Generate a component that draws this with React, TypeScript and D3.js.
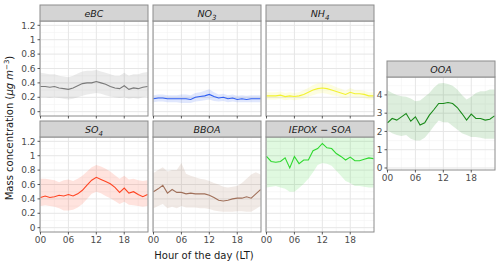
import React from 'react';
import * as d3 from 'd3';

// hourly diurnal means and +/- 1 sd band
const hours = [0, 1, 2, 3, 4, 5, 6, 7, 8, 9, 10, 11, 12, 13, 14, 15, 16, 17, 18, 19, 20, 21, 22, 23];

const eBC = [0.35, 0.35, 0.34, 0.35, 0.33, 0.32, 0.31, 0.33, 0.36, 0.39, 0.40, 0.40, 0.42, 0.40, 0.38, 0.35, 0.33, 0.32, 0.36, 0.31, 0.33, 0.32, 0.34, 0.35];
const eBCLo = [0.20, 0.20, 0.19, 0.20, 0.19, 0.18, 0.17, 0.18, 0.20, 0.22, 0.24, 0.25, 0.26, 0.25, 0.23, 0.21, 0.20, 0.19, 0.20, 0.18, 0.19, 0.18, 0.20, 0.21];
const eBCHi = [0.54, 0.53, 0.52, 0.52, 0.50, 0.49, 0.48, 0.50, 0.53, 0.56, 0.57, 0.57, 0.58, 0.56, 0.54, 0.52, 0.50, 0.50, 0.54, 0.50, 0.52, 0.52, 0.54, 0.55];

const NO3 = [0.18, 0.19, 0.19, 0.18, 0.18, 0.18, 0.18, 0.18, 0.17, 0.20, 0.21, 0.22, 0.24, 0.21, 0.19, 0.20, 0.18, 0.19, 0.17, 0.18, 0.17, 0.18, 0.18, 0.18];
const NO3Lo = [0.13, 0.14, 0.14, 0.13, 0.13, 0.13, 0.12, 0.12, 0.12, 0.14, 0.15, 0.16, 0.17, 0.15, 0.14, 0.15, 0.13, 0.14, 0.13, 0.13, 0.13, 0.13, 0.13, 0.13];
const NO3Hi = [0.23, 0.24, 0.24, 0.23, 0.23, 0.23, 0.24, 0.24, 0.23, 0.26, 0.27, 0.29, 0.31, 0.27, 0.24, 0.25, 0.23, 0.24, 0.22, 0.23, 0.22, 0.23, 0.23, 0.23];

const NH4 = [0.22, 0.22, 0.22, 0.23, 0.21, 0.22, 0.21, 0.22, 0.24, 0.27, 0.30, 0.32, 0.33, 0.32, 0.30, 0.28, 0.26, 0.24, 0.27, 0.25, 0.25, 0.24, 0.22, 0.22];
const NH4Lo = [0.17, 0.17, 0.17, 0.18, 0.16, 0.17, 0.16, 0.17, 0.18, 0.21, 0.23, 0.25, 0.26, 0.25, 0.23, 0.22, 0.20, 0.19, 0.21, 0.20, 0.20, 0.19, 0.17, 0.17];
const NH4Hi = [0.27, 0.27, 0.27, 0.28, 0.26, 0.27, 0.26, 0.27, 0.30, 0.33, 0.37, 0.39, 0.40, 0.39, 0.37, 0.34, 0.32, 0.29, 0.33, 0.30, 0.30, 0.29, 0.27, 0.27];

const SO4 = [0.42, 0.44, 0.42, 0.43, 0.45, 0.44, 0.46, 0.44, 0.47, 0.52, 0.59, 0.66, 0.70, 0.67, 0.64, 0.61, 0.56, 0.49, 0.55, 0.48, 0.50, 0.46, 0.43, 0.46];
const SO4Lo = [0.30, 0.31, 0.30, 0.29, 0.27, 0.24, 0.24, 0.25, 0.28, 0.33, 0.40, 0.47, 0.50, 0.48, 0.44, 0.41, 0.37, 0.33, 0.36, 0.32, 0.31, 0.30, 0.29, 0.30];
const SO4Hi = [0.68, 0.68, 0.67, 0.66, 0.63, 0.66, 0.67, 0.65, 0.68, 0.72, 0.78, 0.84, 0.87, 0.85, 0.82, 0.78, 0.73, 0.68, 0.72, 0.67, 0.68, 0.66, 0.65, 0.66];

const BBOA = [0.50, 0.54, 0.59, 0.48, 0.53, 0.49, 0.49, 0.47, 0.48, 0.47, 0.47, 0.47, 0.45, 0.42, 0.38, 0.37, 0.38, 0.40, 0.41, 0.41, 0.43, 0.41, 0.47, 0.53];
const BBOALo = [0.27, 0.30, 0.33, 0.27, 0.29, 0.27, 0.30, 0.28, 0.28, 0.28, 0.27, 0.27, 0.26, 0.24, 0.23, 0.22, 0.22, 0.22, 0.23, 0.23, 0.22, 0.22, 0.26, 0.30];
const BBOAHi = [0.76, 0.80, 0.84, 0.78, 0.80, 0.80, 0.90, 0.75, 0.72, 0.70, 0.68, 0.67, 0.65, 0.62, 0.60, 0.57, 0.56, 0.57, 0.58, 0.62, 0.68, 0.74, 0.77, 0.74];

const IEPOX = [0.99, 0.92, 0.91, 0.92, 0.97, 0.83, 0.99, 0.89, 0.94, 0.94, 1.07, 1.10, 1.17, 1.11, 1.10, 1.03, 0.99, 0.94, 0.98, 0.93, 0.93, 0.95, 0.97, 0.96];
const IEPOXLo = [0.56, 0.57, 0.58, 0.56, 0.54, 0.50, 0.50, 0.55, 0.61, 0.68, 0.77, 0.87, 0.90, 0.89, 0.86, 0.79, 0.72, 0.65, 0.62, 0.58, 0.58, 0.57, 0.56, 0.56];
const IEPOXHi = [1.42, 1.30, 1.30, 1.32, 1.40, 1.30, 1.48, 1.30, 1.30, 1.30, 1.37, 1.33, 1.44, 1.33, 1.34, 1.30, 1.30, 1.30, 1.34, 1.30, 1.30, 1.33, 1.38, 1.36];

const OOA = [2.47, 2.71, 2.62, 2.80, 2.98, 2.56, 2.80, 2.35, 2.47, 2.89, 3.20, 3.53, 3.53, 3.58, 3.53, 3.31, 2.98, 2.62, 2.95, 2.71, 2.71, 2.62, 2.67, 2.85];
const OOALo = [2.07, 1.90, 1.80, 1.75, 1.80, 1.60, 1.50, 1.50, 1.65, 1.95, 2.30, 2.60, 2.50, 2.50, 2.30, 2.10, 1.90, 1.80, 1.70, 1.70, 1.65, 1.60, 1.60, 1.60];
const OOAHi = [4.25, 4.10, 4.00, 3.93, 3.90, 3.80, 3.65, 3.70, 3.90, 4.10, 4.40, 4.62, 4.65, 4.60, 4.50, 4.30, 4.00, 3.75, 3.90, 4.10, 4.20, 4.20, 4.30, 4.30];

const xTicks = [0, 6, 12, 18];
const xTickLabels = ['00', '06', '12', '18'];
const xMinor = [3, 9, 15, 21];
const yTicks = [0, 0.2, 0.4, 0.6, 0.8, 1, 1.2];
const yMinor = [0.1, 0.3, 0.5, 0.7, 0.9, 1.1];
const yTicksOOA = [0, 1, 2, 3, 4];
const yMinorOOA = [0.5, 1.5, 2.5, 3.5, 4.5];

const FONT = 'DejaVu Sans, Verdana, sans-serif';

type PanelProps = {
  id: string;
  left: number;
  top: number;
  w: number;
  panelH: number;
  label: React.ReactNode;
  mean: number[];
  lo: number[];
  hi: number[];
  color: string;
  yDomain: [number, number];
  ticks: number[];
  minor: number[];
  yLabels: boolean;
  xLabels: boolean;
};

function Panel(p: PanelProps) {
  const stripH = 16;
  const y0 = p.top + stripH;
  const y1 = y0 + p.panelH;
  const x = d3.scaleLinear().domain([0, 23]).range([p.left + 0.5, p.left + p.w - 0.5]);
  const y = d3.scaleLinear().domain(p.yDomain).range([y1, y0]);

  const band = d3.area<number>()
    .x((d, i) => x(hours[i]))
    .y0((d, i) => y(p.lo[i]))
    .y1((d, i) => y(p.hi[i]));
  const line = d3.line<number>()
    .x((d, i) => x(hours[i]))
    .y(d => y(d));

  return (
    <g>
      <defs>
        <clipPath id={'clip-' + p.id}>
          <rect x={p.left} y={y0} width={p.w} height={p.panelH} />
        </clipPath>
      </defs>
      <rect x={p.left} y={y0} width={p.w} height={p.panelH} fill="#fff" />
      <g clipPath={`url(#clip-${p.id})`}>
        {p.minor.map(t => (
          <line key={'ym' + t} x1={p.left} x2={p.left + p.w} y1={y(t)} y2={y(t)} stroke="#f3f3f3" strokeWidth={0.6} />
        ))}
        {xMinor.map(t => (
          <line key={'xm' + t} x1={x(t)} x2={x(t)} y1={y0} y2={y1} stroke="#f3f3f3" strokeWidth={0.6} />
        ))}
        {p.ticks.map(t => (
          <line key={'yg' + t} x1={p.left} x2={p.left + p.w} y1={y(t)} y2={y(t)} stroke="#e6e6e6" strokeWidth={1} />
        ))}
        {xTicks.map(t => (
          <line key={'xg' + t} x1={x(t)} x2={x(t)} y1={y0} y2={y1} stroke="#e6e6e6" strokeWidth={1} />
        ))}
        <path d={band(p.mean) || ''} fill={p.color} fillOpacity={0.15} />
        <path d={line(p.mean) || ''} fill="none" stroke={p.color} strokeWidth={1.1} />
      </g>
      <rect x={p.left} y={y0} width={p.w} height={p.panelH} fill="none" stroke="#8c8c8c" strokeWidth={1} />
      <rect x={p.left} y={p.top} width={p.w} height={stripH} fill="#d4d4d4" stroke="#8c8c8c" strokeWidth={1} />
      <text x={p.left + p.w / 2} y={p.top + 12} textAnchor="middle" fontStyle="italic" fontSize={9.5} fill="#1a1a1a" fontFamily={FONT}>
        {p.label}
      </text>
      {xTicks.map((t, i) => (
        <g key={'xt' + t}>
          <line x1={x(t)} x2={x(t)} y1={y1} y2={y1 + 2.5} stroke="#333" strokeWidth={0.8} />
          {p.xLabels && (
            <text x={x(t)} y={y1 + 11} textAnchor="middle" fontSize={9} fill="#4d4d4d" fontFamily={FONT}>
              {xTickLabels[i]}
            </text>
          )}
        </g>
      ))}
      {p.yLabels && p.ticks.map(t => (
        <g key={'yt' + t}>
          <line x1={p.left - 2.5} x2={p.left} y1={y(t)} y2={y(t)} stroke="#333" strokeWidth={0.8} />
          <text x={p.left - 4.5} y={y(t) + 3.2} textAnchor="end" fontSize={9} fill="#4d4d4d" fontFamily={FONT}>
            {d3.format('~g')(t)}
          </text>
        </g>
      ))}
    </g>
  );
}

const sub = (base: string, s: string) => (
  <>
    {base}
    <tspan fontSize={7} dy={2.5}>{s}</tspan>
  </>
);

export default function App() {
  const W = 108;
  const cols = [40, 153, 266];
  const rows = [5, 121];
  const small: [number, number] = [-0.06, 1.26];
  const panels = [
    { id: 'ebc', c: 0, r: 0, label: 'eBC', mean: eBC, lo: eBCLo, hi: eBCHi, color: '#7a7a7a' },
    { id: 'no3', c: 1, r: 0, label: sub('NO', '3'), mean: NO3, lo: NO3Lo, hi: NO3Hi, color: '#2f5ff2' },
    { id: 'nh4', c: 2, r: 0, label: sub('NH', '4'), mean: NH4, lo: NH4Lo, hi: NH4Hi, color: '#f2f230' },
    { id: 'so4', c: 0, r: 1, label: sub('SO', '4'), mean: SO4, lo: SO4Lo, hi: SO4Hi, color: '#ff4422' },
    { id: 'bboa', c: 1, r: 1, label: 'BBOA', mean: BBOA, lo: BBOALo, hi: BBOAHi, color: '#a0705a' },
    { id: 'iepox', c: 2, r: 1, label: 'IEPOX \u2212 SOA', mean: IEPOX, lo: IEPOXLo, hi: IEPOXHi, color: '#2ed82e' },
  ];

  return (
    <svg width={500} height={265} style={{ position: 'absolute', left: 0, top: 0 }}>
      <rect width={500} height={265} fill="#fff" />
      {panels.map(p => (
        <Panel
          key={p.id}
          id={p.id}
          left={cols[p.c]}
          top={rows[p.r]}
          w={W}
          panelH={95}
          label={p.label}
          mean={p.mean}
          lo={p.lo}
          hi={p.hi}
          color={p.color}
          yDomain={small}
          ticks={yTicks}
          minor={yMinor}
          yLabels={p.c === 0}
          xLabels={p.r === 1}
        />
      ))}
      <Panel
        id="ooa"
        left={387}
        top={61}
        w={W}
        panelH={93}
        label="OOA"
        mean={OOA}
        lo={OOALo}
        hi={OOAHi}
        color="#1a8a1a"
        yDomain={[-0.11, 4.98]}
        ticks={yTicksOOA}
        minor={yMinorOOA}
        yLabels={true}
        xLabels={true}
      />
      <text transform="translate(13,128) rotate(-90)" textAnchor="middle" fontSize={10} fill="#1a1a1a" fontFamily={FONT}>
        Mass concentration (<tspan fontStyle="italic">μg m</tspan>
        <tspan fontSize={7} dy={-4}>−3</tspan>
        <tspan dy={4}>)</tspan>
      </text>
      <text x={204} y={259} textAnchor="middle" fontSize={10} fill="#1a1a1a" fontFamily={FONT}>
        Hour of the day (LT)
      </text>
    </svg>
  );
}
